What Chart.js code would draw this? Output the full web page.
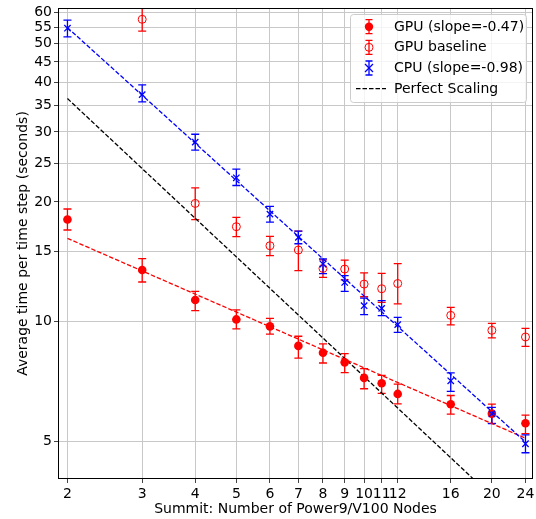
<!DOCTYPE html>
<html><head><meta charset="utf-8">
<script src="https://cdn.jsdelivr.net/npm/chart.js@4"></script>
<style>html,body{margin:0;padding:0;background:#fff;overflow:hidden;} canvas{display:block;}</style>
</head><body><canvas id="c" width="536" height="519" style="width:536px;height:519px"></canvas>
<script>
// ---- data ----
const nodes = [2, 3, 4, 5, 6, 7, 8, 9, 10, 11, 12, 16, 20, 24];
const gpuTime = [18.07, 13.49, 11.34, 10.13, 9.73, 8.69, 8.35, 7.90, 7.22, 7.00, 6.58, 6.20, 5.87, 5.55];
const gpuLow  = [17.0, 12.58, 10.66, 9.59, 9.3, 8.1, 7.87, 7.44, 6.78, 6.6, 6.21, 5.85, 5.55, 5.23];
const gpuHigh = [19.2, 14.4, 11.92, 10.7, 10.19, 9.19, 8.79, 8.31, 7.62, 7.33, 6.96, 6.52, 6.2, 5.82];

const baseNodes = [3, 4, 5, 6, 7, 8, 9, 10, 11, 12, 16, 20, 24];
const baseTime = [57.6, 19.83, 17.33, 15.52, 15.14, 13.61, 13.56, 12.43, 12.1, 12.47, 10.37, 9.51, 9.15];
const baseLow  = [53.8, 18.05, 16.37, 14.65, 13.43, 12.92, 12.74, 11.55, 11.18, 11.08, 9.81, 9.1, 8.67];
const baseHigh = [61.4, 21.7, 18.3, 16.38, 16.9, 14.3, 14.28, 13.26, 13.22, 14.0, 10.86, 9.9, 9.62];

const cpuTime = [54.7, 37.24, 28.28, 23.0, 18.64, 16.29, 13.96, 12.55, 10.97, 10.8, 9.83, 7.1, 5.86, 4.93];
const cpuLow  = [52.0, 35.7, 27.0, 22.0, 17.8, 15.7, 13.2, 11.92, 10.41, 10.35, 9.4, 6.68, 5.54, 4.68];
const cpuHigh = [57.3, 39.4, 29.6, 24.2, 19.5, 16.9, 14.38, 13.05, 11.46, 11.29, 10.25, 7.43, 6.09, 5.19];

const fitNodes = [2, 24];
const gpuFit = [16.2, 5.09];
const cpuFit = [54.9, 4.98];
const perfect = [36.4, 3.03];

const xTicks = [2, 3, 4, 5, 6, 7, 8, 9, 10, 11, 12, 16, 20, 24];
const yTicks = [5, 10, 15, 20, 25, 30, 35, 40, 45, 50, 55, 60];

const legendLabels = ['GPU (slope=-0.47)', 'GPU baseline', 'CPU (slope=-0.98)', 'Perfect Scaling'];

// ---- helpers ----
const pts = (xs, ys) => xs.map((x, i) => ({x: x, y: ys[i]}));
const FONT = "'DejaVu Sans', 'Liberation Sans', sans-serif";
const RED = '#ff0000', BLUE = '#0000ff';

const errorBars = {
  id: 'errorBars',
  beforeDatasetsDraw(chart) {
    const {ctx, chartArea: a, scales: {x, y}} = chart;
    ctx.save();
    ctx.beginPath(); ctx.rect(a.left, a.top, a.right - a.left, a.bottom - a.top); ctx.clip();
    chart.data.datasets.forEach(d => {
      if (!d.errLow) return;
      ctx.strokeStyle = d.borderColor; ctx.lineWidth = 1.3;
      d.data.forEach((p, i) => {
        const px = x.getPixelForValue(p.x);
        const y1 = y.getPixelForValue(d.errLow[i]);
        const y2 = y.getPixelForValue(d.errHigh[i]);
        ctx.beginPath();
        ctx.moveTo(px, y1); ctx.lineTo(px, y2);
        ctx.moveTo(px - 4, y1); ctx.lineTo(px + 4, y1);
        ctx.moveTo(px - 4, y2); ctx.lineTo(px + 4, y2);
        ctx.stroke();
      });
    });
    ctx.restore();
  }
};

const frameAndLegend = {
  id: 'frameAndLegend',
  afterDraw(chart) {
    const {ctx, chartArea: a} = chart;
    ctx.save();
    ctx.strokeStyle = '#000'; ctx.lineWidth = 1;
    ctx.strokeRect(Math.round(a.left) + 0.5, Math.round(a.top) + 0.5,
                   Math.round(a.right - a.left) - 1, Math.round(a.bottom - a.top) - 1);
    // legend box
    const bx = 350.5, by = 14.5, bw = 176, bh = 88, r = 3;
    ctx.beginPath();
    ctx.moveTo(bx + r, by); ctx.lineTo(bx + bw - r, by); ctx.arcTo(bx + bw, by, bx + bw, by + r, r);
    ctx.lineTo(bx + bw, by + bh - r); ctx.arcTo(bx + bw, by + bh, bx + bw - r, by + bh, r);
    ctx.lineTo(bx + r, by + bh); ctx.arcTo(bx, by + bh, bx, by + bh - r, r);
    ctx.lineTo(bx, by + r); ctx.arcTo(bx, by, bx + r, by, r); ctx.closePath();
    ctx.fillStyle = 'rgba(255,255,255,0.8)'; ctx.fill();
    ctx.strokeStyle = '#cccccc'; ctx.lineWidth = 1; ctx.stroke();
    const mx = 369, rows = [26.7, 47.3, 68.0, 88.7];
    const eb = (yc, col) => {
      ctx.strokeStyle = col; ctx.lineWidth = 1.3; ctx.beginPath();
      ctx.moveTo(mx, yc - 7); ctx.lineTo(mx, yc + 7);
      ctx.moveTo(mx - 3.5, yc - 7); ctx.lineTo(mx + 3.5, yc - 7);
      ctx.moveTo(mx - 3.5, yc + 7); ctx.lineTo(mx + 3.5, yc + 7);
      ctx.stroke();
    };
    eb(rows[0], RED);
    ctx.fillStyle = RED; ctx.beginPath(); ctx.arc(mx, rows[0], 4.2, 0, Math.PI * 2); ctx.fill();
    eb(rows[1], RED);
    ctx.strokeStyle = RED; ctx.lineWidth = 1; ctx.beginPath(); ctx.arc(mx, rows[1], 4, 0, Math.PI * 2); ctx.stroke();
    eb(rows[2], BLUE);
    ctx.strokeStyle = BLUE; ctx.lineWidth = 1.3; ctx.beginPath();
    ctx.moveTo(mx - 4, rows[2] - 4); ctx.lineTo(mx + 4, rows[2] + 4);
    ctx.moveTo(mx - 4, rows[2] + 4); ctx.lineTo(mx + 4, rows[2] - 4); ctx.stroke();
    ctx.strokeStyle = '#000'; ctx.lineWidth = 1.3; ctx.setLineDash([4.5, 2]);
    ctx.beginPath(); ctx.moveTo(356, rows[3]); ctx.lineTo(386, rows[3]); ctx.stroke();
    ctx.setLineDash([]);
    ctx.fillStyle = '#000'; ctx.font = '14px ' + FONT; ctx.textBaseline = 'middle'; ctx.textAlign = 'left';
    legendLabels.forEach((t, i) => ctx.fillText(t, 394, rows[i] + 0.5));
    ctx.restore();
  }
};

new Chart(document.getElementById('c'), {
  type: 'scatter',
  data: {
    datasets: [
      {label: legendLabels[0], data: pts(nodes, gpuTime), errLow: gpuLow, errHigh: gpuHigh,
       showLine: false, pointStyle: 'circle', pointRadius: 4.3, backgroundColor: RED, borderColor: RED, borderWidth: 0, order: 3},
      {label: legendLabels[1], data: pts(baseNodes, baseTime), errLow: baseLow, errHigh: baseHigh,
       showLine: false, pointStyle: 'circle', pointRadius: 4, backgroundColor: 'rgba(0,0,0,0)', borderColor: RED, borderWidth: 1, order: 4},
      {label: legendLabels[2], data: pts(nodes, cpuTime), errLow: cpuLow, errHigh: cpuHigh,
       showLine: false, pointStyle: 'crossRot', pointRadius: 4.5, backgroundColor: BLUE, borderColor: BLUE, borderWidth: 1.3, order: 1},
      {label: 'gpu fit', data: pts(fitNodes, gpuFit), showLine: true, pointRadius: 0, borderColor: RED, borderWidth: 1.3, borderDash: [4.5, 2], order: 5},
      {label: 'cpu fit', data: pts(fitNodes, cpuFit), showLine: true, pointRadius: 0, borderColor: BLUE, borderWidth: 1.3, borderDash: [4.5, 2], order: 2},
      {label: legendLabels[3], data: pts(fitNodes, perfect), showLine: true, pointRadius: 0, borderColor: '#000', borderWidth: 1.3, borderDash: [4.5, 2], order: 6}
    ]
  },
  options: {
    responsive: false, animation: false, events: [], devicePixelRatio: 1,
    layout: {autoPadding: false, padding: {top: 8, right: 3, left: 0, bottom: 0}},
    plugins: {legend: {display: false}, tooltip: {enabled: false}},
    scales: {
      x: {
        type: 'logarithmic', min: 1.9, max: 25,
        afterBuildTicks: s => { s.ticks = xTicks.map(v => ({value: v})); },
        afterFit: s => { s.height = 40; s.paddingLeft = 0; s.paddingRight = 0; },
        ticks: {autoSkip: false, maxRotation: 0, padding: 3, color: '#000', font: {family: FONT, size: 14},
                callback: v => String(v)},
        grid: {color: '#c8c8c8', lineWidth: 1, tickLength: 4, tickColor: '#444'},
        border: {display: false},
        title: {display: true, text: 'Summit: Number of Power9/V100 Nodes', color: '#000',
                font: {family: FONT, size: 14}, padding: {top: 0, bottom: 1}}
      },
      y: {
        type: 'logarithmic', min: 4.02, max: 61.5,
        afterBuildTicks: s => { s.ticks = yTicks.map(v => ({value: v})); },
        afterFit: s => { s.width = 58; s.paddingTop = 0; s.paddingBottom = 0; },
        ticks: {autoSkip: false, padding: 2, color: '#000', font: {family: FONT, size: 14},
                callback: v => String(v)},
        grid: {color: '#c8c8c8', lineWidth: 1, tickLength: 4, tickColor: '#444'},
        border: {display: false},
        title: {display: true, text: 'Average time per time step (seconds)', color: '#000',
                font: {family: FONT, size: 14}, padding: {top: 15, bottom: 0}}
      }
    }
  },
  plugins: [errorBars, frameAndLegend]
});
</script>
</body></html>
